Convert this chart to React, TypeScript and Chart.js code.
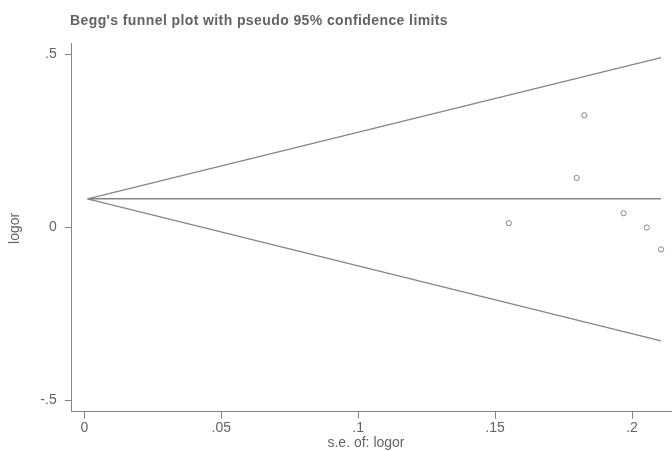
import React, { useEffect, useRef } from "react";
import { Chart, registerables } from "chart.js";

Chart.register(...registerables);

// Study estimates (x: standard error of logor, y: logor)
const studySe = [0.155, 0.1798, 0.1826, 0.1969, 0.2054, 0.2106];
const studyLogor = [0.0115, 0.1425, 0.3237, 0.0404, -0.0009, -0.0643];

// Pooled estimate line
const pooledSe = [0.0012, 0.2106];
const pooledLogor = [0.082, 0.082];

// Pseudo 95% confidence limits (endpoints)
const upperSe = [0.0012, 0.2106];
const upperLogor = [0.082, 0.4903];
const lowerSe = [0.0012, 0.2106];
const lowerLogor = [0.082, -0.3288];

// Apex marker
const apexSe = [0.0026];
const apexLogor = [0.082];

// Ticks
const xTickValues = [0, 0.05, 0.1, 0.15, 0.2];
const xTickLabels = ["0", ".05", ".1", ".15", ".2"];
const yTickValues = [-0.5, 0, 0.5];
const yTickLabels = ["-.5", "0", ".5"];

const titleText = "Begg's funnel plot with pseudo 95% confidence limits";
const xTitleText = "s.e. of: logor";
const yTitleText = "logor";

const LINE = "#858585";
const TEXT = "#636363";
const FONT = "'Liberation Sans', Arial, Helvetica, sans-serif";

const pts = (xs: number[], ys: number[]) => xs.map((x, i) => ({ x, y: ys[i] }));

export default function App() {
  const ref = useRef<HTMLCanvasElement | null>(null);

  useEffect(() => {
    if (!ref.current) return;
    const overlay = {
      id: "overlay",
      afterDraw(chart: any) {
        const ctx = chart.ctx;
        const ca = chart.chartArea;
        ctx.save();
        ctx.fillStyle = TEXT;
        ctx.font = `bold 14px ${FONT}`;
        ctx.textAlign = "left";
        ctx.textBaseline = "alphabetic";
        try {
          (ctx as any).letterSpacing = "0.4px";
        } catch (e) {}
        ctx.fillText(titleText, 70, 25);
        try {
          (ctx as any).letterSpacing = "0px";
        } catch (e) {}
        ctx.font = `14px ${FONT}`;
        ctx.textAlign = "center";
        ctx.fillText(xTitleText, 366, 446.5);
        ctx.translate(15.5, (ca.top + ca.bottom) / 2 + 1);
        ctx.rotate(-Math.PI / 2);
        ctx.textBaseline = "middle";
        ctx.fillText(yTitleText, 0, 0);
        ctx.restore();
      },
    };

    const chart = new Chart(ref.current, {
      type: "scatter",
      data: {
        datasets: [
          {
            label: "upper",
            data: pts(upperSe, upperLogor),
            showLine: true,
            borderColor: LINE,
            borderWidth: 1.4,
            pointRadius: 0,
          },
          {
            label: "lower",
            data: pts(lowerSe, lowerLogor),
            showLine: true,
            borderColor: LINE,
            borderWidth: 1.4,
            pointRadius: 0,
          },
          {
            label: "pooled",
            data: pts(pooledSe, pooledLogor),
            showLine: true,
            borderColor: LINE,
            borderWidth: 1.5,
            pointRadius: 0,
          },
          {
            label: "apex",
            data: pts(apexSe, apexLogor),
            pointStyle: "rect",
            pointRadius: 2,
            backgroundColor: LINE,
            borderColor: LINE,
            borderWidth: 0,
          },
          {
            label: "studies",
            data: pts(studySe, studyLogor),
            pointStyle: "circle",
            pointRadius: 2.6,
            backgroundColor: "#ffffff",
            borderColor: LINE,
            borderWidth: 1,
            clip: false as any,
          },
        ],
      },
      options: {
        animation: false,
        responsive: false,
        maintainAspectRatio: false,
        layout: { autoPadding: false, padding: { left: 0, right: 0, top: 43, bottom: 0 } },
        plugins: {
          legend: { display: false },
          tooltip: { enabled: false },
          title: { display: false },
        },
        scales: {
          x: {
            type: "linear",
            min: -0.0046,
            max: 0.2146,
            afterBuildTicks: (s: any) => {
              s.ticks = xTickValues.map((v) => ({ value: v }));
            },
            afterFit: (s: any) => {
              s.height = 39.3;
              s.paddingLeft = 0;
              s.paddingRight = 0;
            },
            ticks: {
              color: TEXT,
              font: { family: FONT, size: 14 },
              padding: 1,
              maxRotation: 0,
              autoSkip: false,
              callback: (v: any) => {
                const i = xTickValues.findIndex((t) => Math.abs(t - Number(v)) < 1e-9);
                return i >= 0 ? xTickLabels[i] : "";
              },
            },
            grid: {
              display: true,
              drawOnChartArea: false,
              drawTicks: true,
              tickLength: 7,
              color: LINE,
            },
            border: { display: true, color: LINE, width: 1 },
          },
          y: {
            type: "linear",
            min: -0.5338,
            max: 0.5327,
            afterBuildTicks: (s: any) => {
              s.ticks = yTickValues.map((v) => ({ value: v }));
            },
            afterFit: (s: any) => {
              s.width = 71.7;
              s.paddingTop = 0;
              s.paddingBottom = 0;
            },
            ticks: {
              color: TEXT,
              font: { family: FONT, size: 14 },
              padding: 8,
              autoSkip: false,
              callback: (v: any) => {
                const i = yTickValues.findIndex((t) => Math.abs(t - Number(v)) < 1e-9);
                return i >= 0 ? yTickLabels[i] : "";
              },
            },
            grid: {
              display: true,
              drawOnChartArea: false,
              drawTicks: true,
              tickLength: 7,
              color: LINE,
            },
            border: { display: true, color: LINE, width: 1 },
          },
        },
      },
      plugins: [overlay],
    });

    return () => chart.destroy();
  }, []);

  return (
    <div style={{ position: "absolute", left: 0, top: 0, width: 672, height: 451, background: "#fff" }}>
      <canvas ref={ref} width={672} height={451} style={{ width: 672, height: 451, display: "block" }} />
    </div>
  );
}
